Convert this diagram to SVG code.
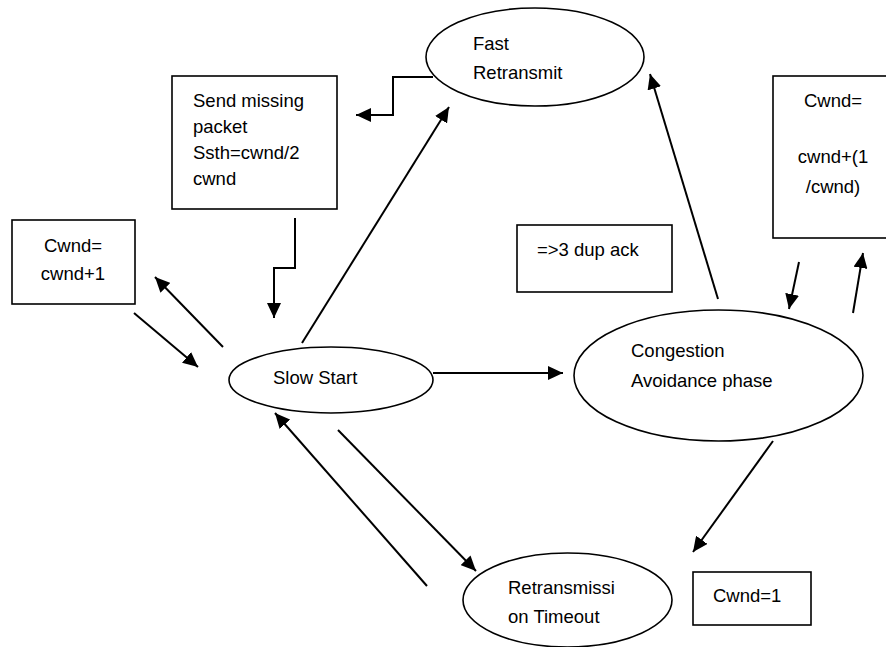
<svg xmlns="http://www.w3.org/2000/svg" width="886" height="647" viewBox="0 0 886 647">
  <style>
    .shape { fill: #ffffff; stroke: #000000; stroke-width: 1.6; }
    .lbl { font-family: "Liberation Sans", Arial, sans-serif; font-size: 18.5px; fill: #000000; }
    .mid { text-anchor: middle; }
    .conn { fill: none; stroke: #000000; stroke-width: 2; marker-end: url(#arrow); }
  </style>
  <defs>
    <marker id="arrow" markerUnits="userSpaceOnUse" markerWidth="16" markerHeight="14" refX="15" refY="7" orient="auto">
      <path d="M0,0 L15,7 L0,14 z" fill="#000000"/>
    </marker>
  </defs>
  <rect width="886" height="647" fill="#ffffff"/>

  <!-- states -->
  <g id="fast-retransmit">
    <ellipse class="shape" cx="535" cy="57" rx="109" ry="49"/>
    <text class="lbl" x="473" y="50">Fast</text>
    <text class="lbl" x="473" y="79">Retransmit</text>
  </g>
  <g id="slow-start">
    <ellipse class="shape" cx="331" cy="380" rx="102" ry="33"/>
    <text class="lbl" x="273" y="384">Slow Start</text>
  </g>
  <g id="congestion-avoidance">
    <ellipse class="shape" cx="718.5" cy="375.5" rx="144.5" ry="65.5"/>
    <text class="lbl" x="631" y="357">Congestion</text>
    <text class="lbl" x="631" y="387">Avoidance phase</text>
  </g>
  <g id="timeout">
    <ellipse class="shape" cx="567.5" cy="600" rx="104.5" ry="47"/>
    <text class="lbl" x="508" y="594">Retransmissi</text>
    <text class="lbl" x="508" y="623">on Timeout</text>
  </g>

  <!-- actions / conditions -->
  <g id="send-missing">
    <rect class="shape" x="172" y="76" width="165" height="133"/>
    <text class="lbl" x="193" y="107">Send missing</text>
    <text class="lbl" x="193" y="133">packet</text>
    <text class="lbl" x="193" y="159">Ssth=cwnd/2</text>
    <text class="lbl" x="193" y="185">cwnd</text>
  </g>
  <g id="cwnd-plus-one">
    <rect class="shape" x="12" y="220" width="123" height="84"/>
    <text class="lbl mid" x="73" y="252">Cwnd=</text>
    <text class="lbl mid" x="73" y="280">cwnd+1</text>
  </g>
  <g id="dup-ack">
    <rect class="shape" x="517" y="225" width="155" height="67"/>
    <text class="lbl" x="537" y="256">=&gt;3 dup ack</text>
  </g>
  <g id="cwnd-increment">
    <rect class="shape" x="773" y="76" width="130" height="162"/>
    <text class="lbl mid" x="833" y="107">Cwnd=</text>
    <text class="lbl mid" x="833" y="163">cwnd+(1</text>
    <text class="lbl mid" x="833" y="193">/cwnd)</text>
  </g>
  <g id="cwnd-reset">
    <rect class="shape" x="693" y="572" width="118" height="53"/>
    <text class="lbl" x="713" y="602">Cwnd=1</text>
  </g>

  <!-- transitions -->
  <g id="connectors">
    <polyline class="conn" points="433,77 393,77 393,115 356,115"/>
    <polyline class="conn" points="295,218 295,268 274,268 274,318"/>
    <line class="conn" x1="223" y1="347" x2="155" y2="277"/>
    <line class="conn" x1="134" y1="313" x2="198" y2="367"/>
    <line class="conn" x1="302" y1="343" x2="449" y2="107"/>
    <line class="conn" x1="433" y1="373" x2="563" y2="373"/>
    <line class="conn" x1="718" y1="299" x2="650" y2="74"/>
    <line class="conn" x1="799" y1="262" x2="789" y2="309"/>
    <line class="conn" x1="853" y1="313" x2="863" y2="253"/>
    <line class="conn" x1="773" y1="441" x2="693" y2="552"/>
    <line class="conn" x1="338" y1="430" x2="476" y2="571"/>
    <line class="conn" x1="427" y1="586" x2="275" y2="413"/>
  </g>
</svg>
